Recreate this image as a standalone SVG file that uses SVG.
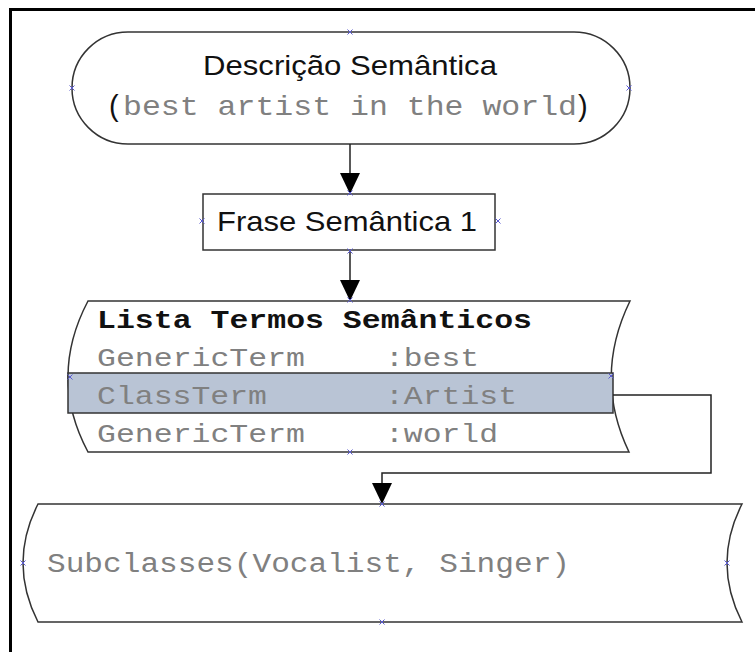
<svg xmlns="http://www.w3.org/2000/svg" width="755" height="652" viewBox="0 0 755 652">
  <style>
    .shape { fill: #ffffff; stroke: #333333; stroke-width: 1.5; }
    .sans { font-family: "Liberation Sans", Arial, sans-serif; fill: #111111; }
    .mono { font-family: "Liberation Mono", "Courier New", monospace; fill: #808080; }
    .bold { font-weight: bold; fill: #111111; }
    .wire { fill: none; stroke: #222222; stroke-width: 1.5; }
    .head { fill: #000000; }
    .pt { stroke: #5a5ad0; stroke-width: 1; fill: none; }
  </style>
  <defs>
    <!-- Visio-style connection point mark -->
    <path id="cp" d="M-2.5,-2.5 L2.5,2.5 M-2.5,2.5 L2.5,-2.5"/>
  </defs>

  <rect width="755" height="652" fill="#ffffff"/>

  <!-- page frame (left and top edges visible) -->
  <path d="M10.5,652 V9.5 H755" fill="none" stroke="#000000" stroke-width="3"/>

  <g id="descricao">
    <rect class="shape" x="72" y="32" width="558" height="112" rx="56" ry="56"/>
    <text class="sans" x="203" y="75" font-size="28" textLength="294" lengthAdjust="spacingAndGlyphs">Descrição Semântica</text>
    <text class="sans" x="109" y="116" font-size="29">(</text>
    <text class="mono" x="123" y="115" font-size="28" textLength="454" lengthAdjust="spacingAndGlyphs">best artist in the world</text>
    <text class="sans" x="578" y="116" font-size="29">)</text>
  </g>

  <g id="frase">
    <rect class="shape" x="203" y="194" width="292" height="56"/>
    <text class="sans" x="217" y="231" font-size="28" textLength="260" lengthAdjust="spacingAndGlyphs">Frase Semântica 1</text>
  </g>

  <g id="lista">
    <path class="shape" d="M88,301 H630 Q593,377 629,452 H88 Q48,377 88,301 Z"/>
    <rect x="68" y="373" width="545" height="40" fill="#b9c4d5" stroke="#333333" stroke-width="1.5"/>
    <text class="mono bold" x="97" y="328" font-size="26" textLength="435" lengthAdjust="spacingAndGlyphs">Lista Termos Semânticos</text>
    <text class="mono" x="97" y="366" font-size="25" textLength="208" lengthAdjust="spacingAndGlyphs">GenericTerm</text>
    <text class="mono" x="385" y="366" font-size="25" textLength="94" lengthAdjust="spacingAndGlyphs">:best</text>
    <text class="mono" x="97" y="404" font-size="25" textLength="170" lengthAdjust="spacingAndGlyphs" fill="#6e7682">ClassTerm</text>
    <text class="mono" x="385" y="404" font-size="25" textLength="132" lengthAdjust="spacingAndGlyphs" fill="#6e7682">:Artist</text>
    <text class="mono" x="97" y="442" font-size="25" textLength="208" lengthAdjust="spacingAndGlyphs">GenericTerm</text>
    <text class="mono" x="385" y="442" font-size="25" textLength="113" lengthAdjust="spacingAndGlyphs">:world</text>
  </g>

  <g id="subclasses">
    <path class="shape" d="M38,504 H742 Q712,563 742,622 H38 Q8,563 38,504 Z"/>
    <text class="mono" x="47" y="572" font-size="27" textLength="523" lengthAdjust="spacingAndGlyphs">Subclasses(Vocalist, Singer)</text>
  </g>

  <g id="connectors">
    <path class="wire" d="M350,144 V174"/>
    <polygon class="head" points="340,173 360,173 350,194"/>
    <path class="wire" d="M350,250 V281"/>
    <polygon class="head" points="340,280 360,280 350,301"/>
    <path class="wire" d="M613,395 H711 V473 H382 V484"/>
    <polygon class="head" points="372,483 392,483 382,504"/>
  </g>

  <g id="connection-points" class="pt">
    <use href="#cp" x="350" y="32"/>
    <use href="#cp" x="72" y="88"/>
    <use href="#cp" x="629" y="88"/>
    <use href="#cp" x="350" y="193"/>
    <use href="#cp" x="202" y="221"/>
    <use href="#cp" x="498" y="221"/>
    <use href="#cp" x="350" y="251"/>
    <use href="#cp" x="350" y="300"/>
    <use href="#cp" x="70" y="377"/>
    <use href="#cp" x="611" y="376"/>
    <use href="#cp" x="350" y="452"/>
    <use href="#cp" x="382" y="504"/>
    <use href="#cp" x="23" y="563"/>
    <use href="#cp" x="727" y="563"/>
    <use href="#cp" x="382" y="622"/>
  </g>
</svg>
